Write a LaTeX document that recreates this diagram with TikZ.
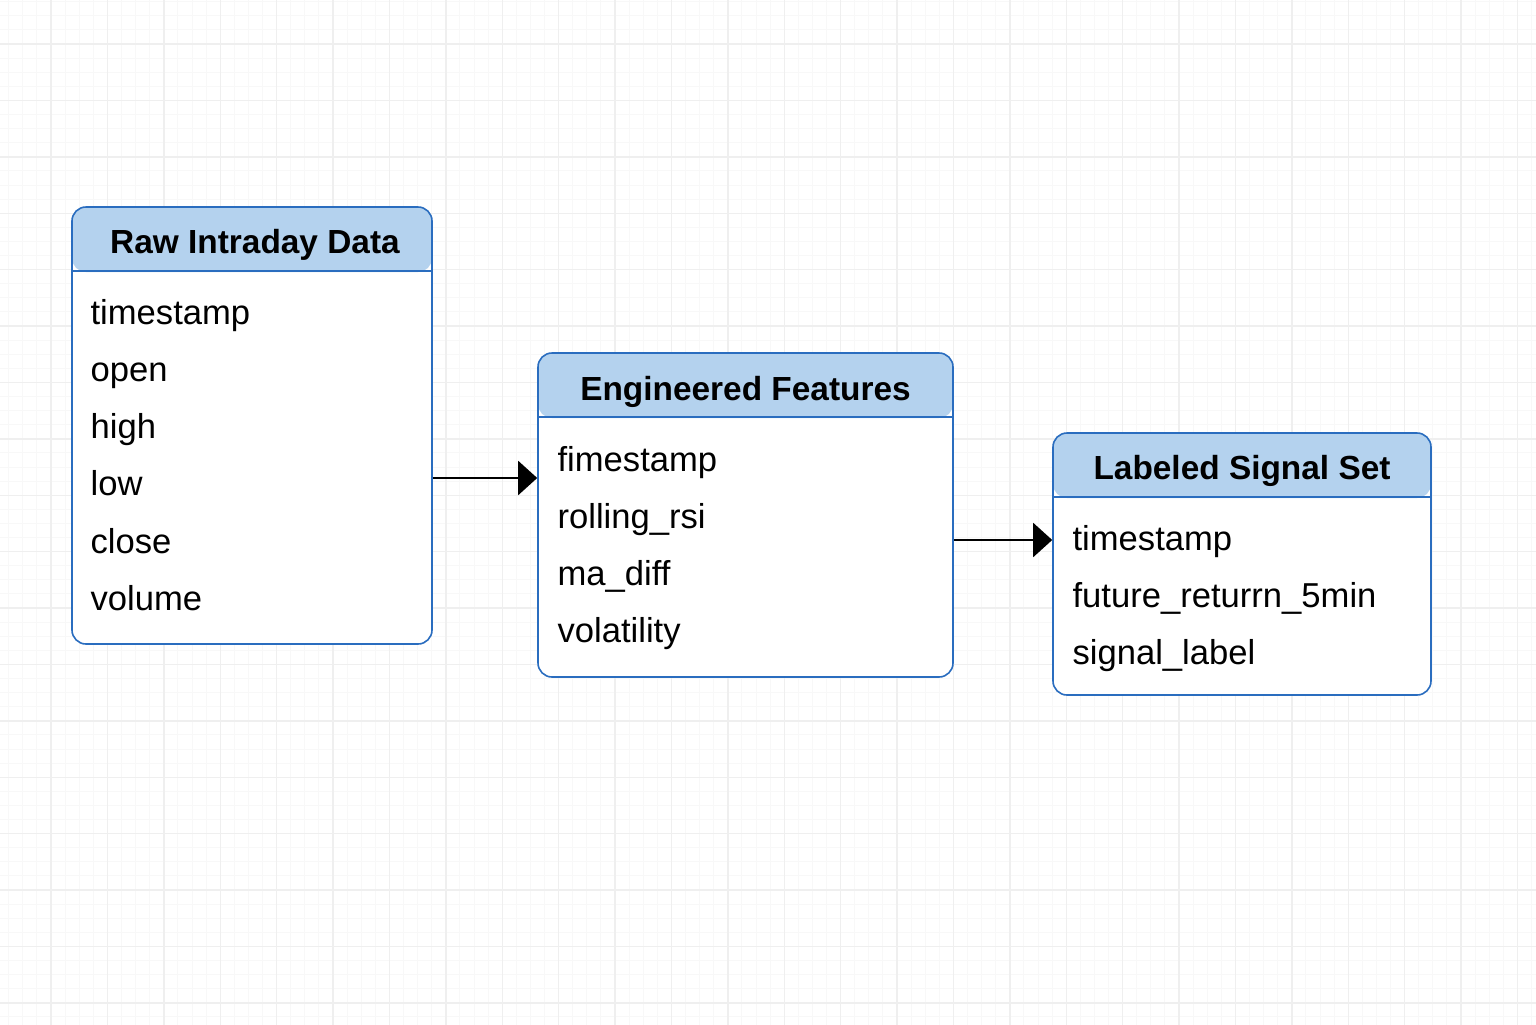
\documentclass[tikz,border=0pt]{standalone}
\usepackage{fontspec}
\setmainfont{Liberation Sans}
\usetikzlibrary{positioning, arrows.meta}
\definecolor{tblue}{HTML}{2A6DBF}
\definecolor{thead}{HTML}{B4D2EE}
\definecolor{gridmaj}{HTML}{EFEFEF}
\definecolor{gridmin}{HTML}{F8F8F8}

\begin{document}
\begin{tikzpicture}[x=0.5pt,y=-0.5pt,node distance=28.6pt,on grid,
   tablebox/.style={draw=tblue, line width=0.8pt, rounded corners=7pt, fill=white, inner sep=0pt,
      path picture={\fill[thead] (path picture bounding box.north west) rectangle ([yshift=-32.5pt]path picture bounding box.north east);}},
   tabletitle/.style={anchor=base, font=\fontsize{16.7}{20}\selectfont\bfseries},
   field/.style={font=\fontsize{17.3}{20}\selectfont, text width=160pt, align=left, text height=12pt, text depth=4pt, inner sep=0pt},
   rule/.style={draw=tblue, line width=0.8pt},
   flow/.style={-{Triangle[length=9.5pt,width=17pt]}, line width=1pt}]
   \useasboundingbox (0,0) rectangle (1536,1024);
   \fill[white] (0,0) rectangle (1536,1024);
   % background grid
   \draw[gridmin, line width=0.5pt, shift={(51,44)}] (-60,1000) grid[step=7.05pt] (1500,-60);
   \draw[gridmaj, line width=0.7pt, shift={(51,44)}] (-60,1000) grid[step=28.2pt] (1500,-60);

   % tables
   \node[tablebox, minimum width=180pt, minimum height=218.5pt] (raw) at (252,425.5) {};
   \draw[rule] ([yshift=-32.5pt]raw.north west) -- ([yshift=-32.5pt]raw.north east);
   \node[tabletitle] (raw-title) at ([xshift=1.5pt,yshift=-23.5pt]raw.north) {Raw Intraday Data};
   \node[field, anchor=base west] (raw-1) at ([xshift=9.5pt,yshift=-59pt]raw.north west) {timestamp};
   \node[field] (raw-2) [below=of raw-1] {open};
   \node[field] (raw-3) [below=of raw-2] {high};
   \node[field] (raw-4) [below=of raw-3] {low};
   \node[field] (raw-5) [below=of raw-4] {close};
   \node[field] (raw-6) [below=of raw-5] {volume};

   \node[tablebox, minimum width=207.5pt, minimum height=162pt] (feat) at (745.5,515) {};
   \draw[rule] ([yshift=-32.5pt]feat.north west) -- ([yshift=-32.5pt]feat.north east);
   \node[tabletitle] (feat-title) at ([yshift=-24pt]feat.north) {Engineered Features};
   \node[field, anchor=base west] (feat-1) at ([xshift=10pt,yshift=-59.5pt]feat.north west) {fimestamp};
   \node[field] (feat-2) [below=of feat-1] {rolling\_rsi};
   \node[field] (feat-3) [below=of feat-2] {ma\_diff};
   \node[field] (feat-4) [below=of feat-3] {volatility};

   \node[tablebox, minimum width=189pt, minimum height=131pt] (label) at (1242,564) {};
   \draw[rule] ([yshift=-32.5pt]label.north west) -- ([yshift=-32.5pt]label.north east);
   \node[tabletitle] (label-title) at ([yshift=-23.5pt]label.north) {Labeled Signal Set};
   \node[field, anchor=base west] (label-1) at ([xshift=10pt,yshift=-59pt]label.north west) {timestamp};
   \node[field] (label-2) [below=of label-1] {future\_returrn\_5min};
   \node[field] (label-3) [below=of label-2] {signal\_label};

   % connectors
   \draw[flow] (raw.east |- 0,478) -- (feat.west |- 0,478);
   \draw[flow] (feat.east |- 0,540) -- (label.west |- 0,540);
\end{tikzpicture}
\end{document}
